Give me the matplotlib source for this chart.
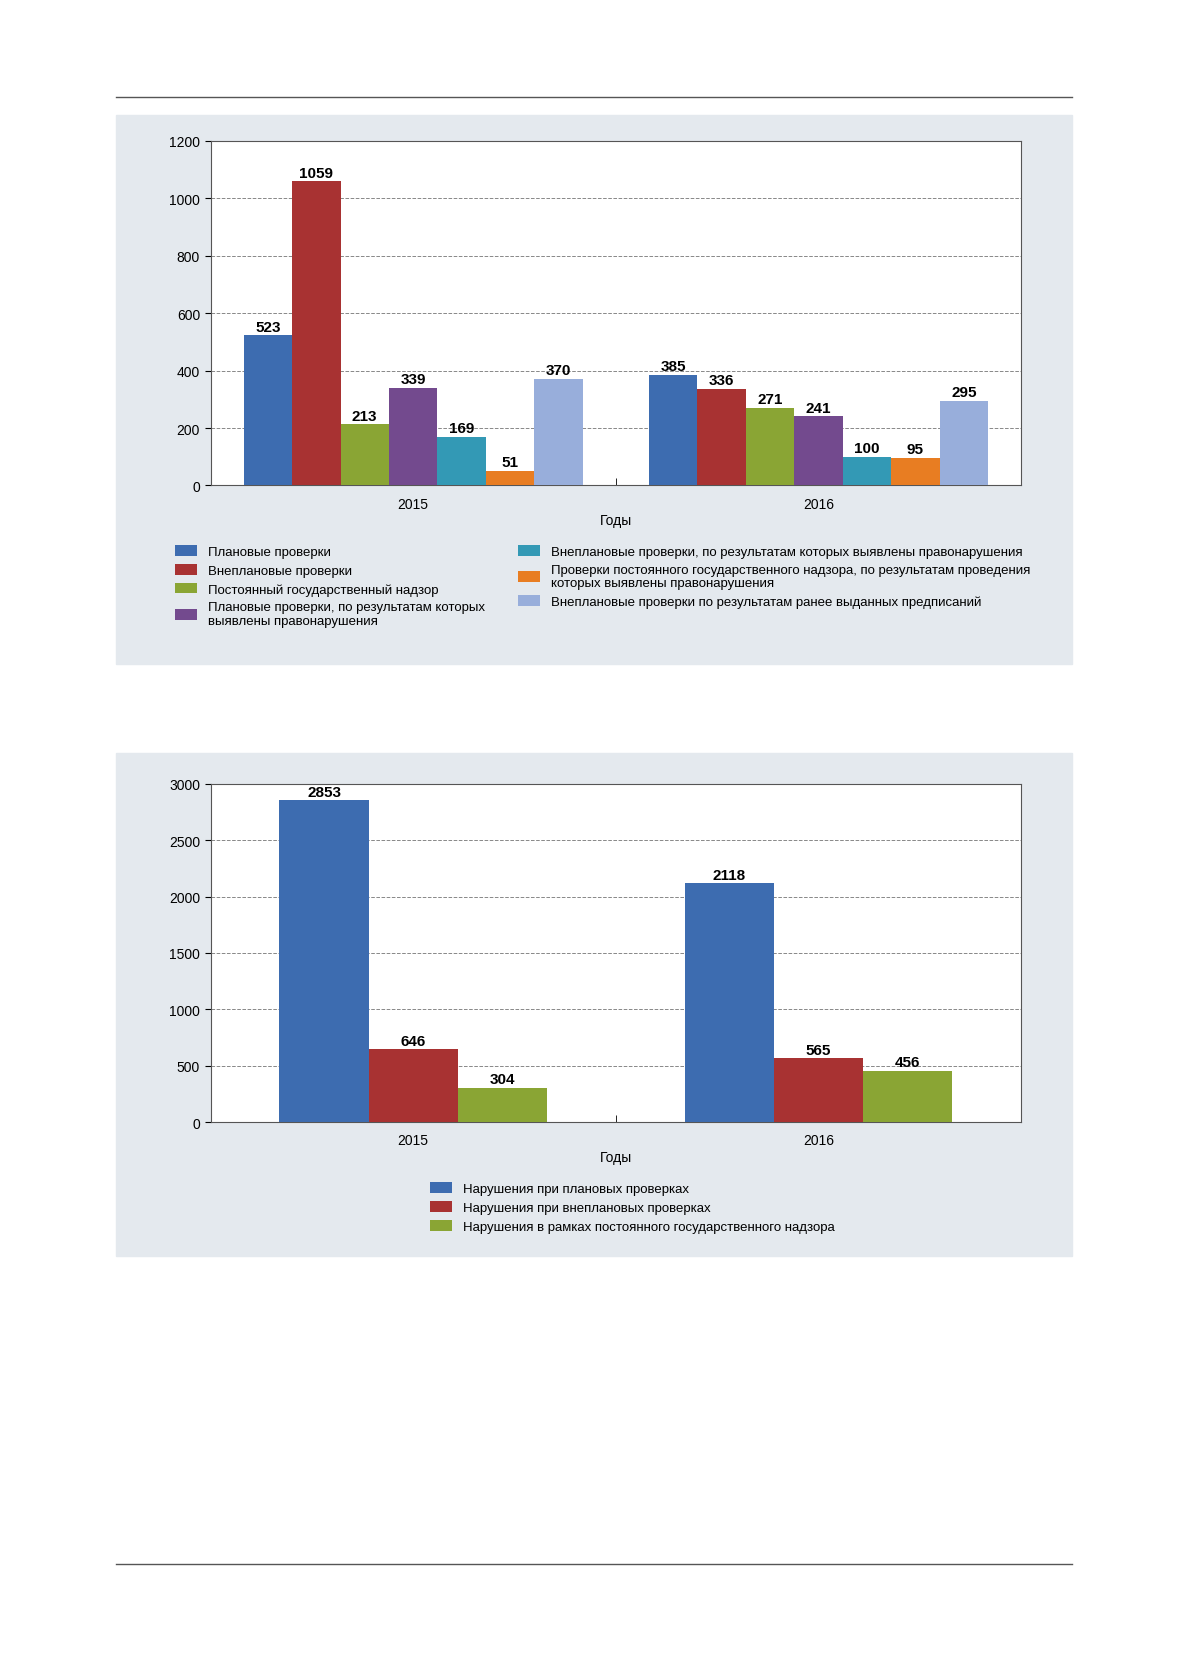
import matplotlib.pyplot as plt
import numpy as np
from matplotlib.patches import Rectangle
from matplotlib.lines import Line2D

plt.rcParams['font.family'] = ['Liberation Sans', 'DejaVu Sans']

years = ["2015", "2016"]

# chart 1
labels1 = [
    "Плановые проверки",
    "Внеплановые проверки",
    "Постоянный государственный надзор",
    "Плановые проверки, по результатам которых\nвыявлены правонарушения",
    "Внеплановые проверки, по результатам которых выявлены правонарушения",
    "Проверки постоянного государственного надзора, по результатам проведения\nкоторых выявлены правонарушения",
    "Внеплановые проверки по результатам ранее выданных предписаний",
]
values1 = [
    [523, 385],
    [1059, 336],
    [213, 271],
    [339, 241],
    [169, 100],
    [51, 95],
    [370, 295],
]
colors1 = ["#3d6cb0", "#a83232", "#8aa534", "#734a8e", "#3399b5", "#e87d22", "#98aedb"]

# chart 2
labels2 = [
    "Нарушения при плановых проверках",
    "Нарушения при внеплановых проверках",
    "Нарушения в рамках постоянного государственного надзора",
]
values2 = [
    [2853, 2118],
    [646, 565],
    [304, 456],
]
colors2 = ["#3d6cb0", "#a83232", "#8aa534"]

W, H = 1120, 1600
fig = plt.figure(figsize=(11.79, 16.81), dpi=100)
bg = "#e4e9ee"

def fx(px): return px / W
def fy(py): return 1 - py / H

fig.add_artist(Rectangle((fx(110), fy(633)), fx(908), 523 / H, color=bg, transform=fig.transFigure, zorder=0))
fig.add_artist(Rectangle((fx(110), fy(1196)), fx(908), 478 / H, color=bg, transform=fig.transFigure, zorder=0))
for y in (93, 1490):
    fig.add_artist(Line2D([fx(110), fx(1018)], [fy(y), fy(y)], color="#555555", lw=1, transform=fig.transFigure))


def draw(ax, values, colors, width, ylim, step):
    n = len(values)
    x = np.arange(len(years))
    handles = []
    for i, (v, c) in enumerate(zip(values, colors)):
        pos = x + (i - (n - 1) / 2) * width
        b = ax.bar(pos, v, width=width, color=c, zorder=3)
        handles.append(b)
        for p, val in zip(pos, v):
            ax.text(p, val + ylim * 0.005, str(val), ha="center", va="bottom",
                    fontsize=11, fontweight="bold", zorder=4)
    ax.set_xlim(-0.5, 1.5)
    ax.set_ylim(0, ylim)
    ax.set_yticks(np.arange(0, ylim + 1, step))
    ax.set_xticks(x)
    ax.set_xticklabels(years)
    ax.set_xticks([-0.5, 0.5, 1.5], minor=True)
    ax.tick_params(axis="x", which="major", length=0, pad=8)
    ax.tick_params(axis="x", which="minor", length=5, direction="in")
    ax.tick_params(axis="y", labelsize=10, direction="out", length=4)
    ax.tick_params(axis="x", labelsize=10)
    ax.yaxis.grid(True, linestyle="--", color="#888888", lw=0.7, zorder=0)
    ax.set_facecolor("white")
    for s in ax.spines.values():
        s.set_color("#555555")
    ax.set_xlabel("Годы", fontsize=10, labelpad=2)
    return handles


ax1 = fig.add_axes([fx(200), fy(463), fx(770), 328 / H])
h1 = draw(ax1, values1, colors1, 0.1195, 1200, 200)
fig.legend(h1, labels1, ncol=2, loc="upper left", bbox_to_anchor=(fx(155), fy(508)),
           frameon=False, fontsize=9.5, handlelength=1.7, handleheight=0.9,
           columnspacing=2.5, labelspacing=0.45)

ax2 = fig.add_axes([fx(200), fy(1069), fx(770), 322 / H])
h2 = draw(ax2, values2, colors2, 0.22, 3000, 500)
fig.legend(h2, labels2, ncol=1, loc="upper left", bbox_to_anchor=(fx(397), fy(1115)),
           frameon=False, fontsize=9.5, handlelength=1.7, handleheight=0.9, labelspacing=0.45)

fig.savefig("out.png", dpi=100)
